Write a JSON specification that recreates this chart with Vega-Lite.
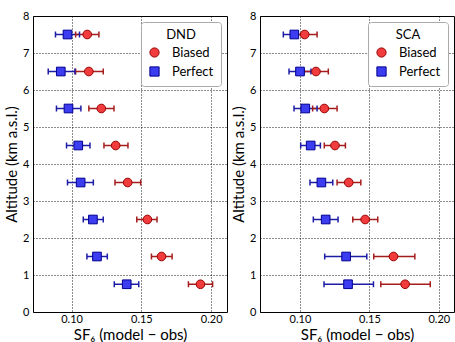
{
  "$schema": "https://vega.github.io/schema/vega-lite/v6.json",
  "padding": {"left": 4, "top": 9, "right": 0, "bottom": 0},
  "spacing": 3,
  "config": {
    "font": "Lato",
    "view": {"stroke": "black", "strokeWidth": 1},
    "axis": {"domain": false, "ticks": false, "grid": true, "gridColor": "black", "gridDash": [1, 2], "gridOpacity": 0.9, "gridWidth": 1, "labelColor": "black", "labelFontSize": 11, "titleFontSize": 15, "titleFontWeight": "normal", "titleColor": "black", "labelPadding": 4, "titlePadding": 3, "labelOverlap": false},
    "axisX": {"labelPadding": 1, "titlePadding": 3},
    "legend": {"orient": "top-right", "offset": 6, "strokeColor": "#aaaaaa", "fillColor": "white", "cornerRadius": 3, "padding": 7, "titleFontSize": 13, "titleFontWeight": "normal", "titleAnchor": "middle", "titleColor": "black", "labelFontSize": 13, "labelColor": "black", "symbolSize": 85, "symbolStrokeWidth": 1, "labelOffset": 11, "rowPadding": 4, "titlePadding": 4}
  },
  "datasets": {
    "dnd": [
      {"series": "Perfect", "alt": 7.5, "x": 0.0971, "lo": 0.0885, "hi": 0.1057},
      {"series": "Perfect", "alt": 6.5, "x": 0.0923, "lo": 0.0833, "hi": 0.1024},
      {"series": "Perfect", "alt": 5.5, "x": 0.0978, "lo": 0.0892, "hi": 0.1067},
      {"series": "Perfect", "alt": 4.5, "x": 0.1048, "lo": 0.0964, "hi": 0.1132},
      {"series": "Perfect", "alt": 3.5, "x": 0.1065, "lo": 0.0971, "hi": 0.1156},
      {"series": "Perfect", "alt": 2.5, "x": 0.1153, "lo": 0.1084, "hi": 0.1227},
      {"series": "Perfect", "alt": 1.5, "x": 0.1182, "lo": 0.1110, "hi": 0.1256},
      {"series": "Perfect", "alt": 0.75, "x": 0.1395, "lo": 0.1306, "hi": 0.1481},
      {"series": "Biased", "alt": 7.5, "x": 0.1112, "lo": 0.1029, "hi": 0.1196},
      {"series": "Biased", "alt": 6.5, "x": 0.1124, "lo": 0.1029, "hi": 0.1227},
      {"series": "Biased", "alt": 5.5, "x": 0.1213, "lo": 0.1124, "hi": 0.1304},
      {"series": "Biased", "alt": 4.5, "x": 0.1316, "lo": 0.1232, "hi": 0.1404},
      {"series": "Biased", "alt": 3.5, "x": 0.1402, "lo": 0.1311, "hi": 0.1495},
      {"series": "Biased", "alt": 2.5, "x": 0.1543, "lo": 0.1467, "hi": 0.1612},
      {"series": "Biased", "alt": 1.5, "x": 0.1644, "lo": 0.1572, "hi": 0.1720},
      {"series": "Biased", "alt": 0.75, "x": 0.1923, "lo": 0.1837, "hi": 0.2010}
    ],
    "sca": [
      {"series": "Perfect", "alt": 7.5, "x": 0.0959, "lo": 0.0880, "hi": 0.1046},
      {"series": "Perfect", "alt": 6.5, "x": 0.1000, "lo": 0.0921, "hi": 0.1079},
      {"series": "Perfect", "alt": 5.5, "x": 0.1038, "lo": 0.0957, "hi": 0.1123},
      {"series": "Perfect", "alt": 4.5, "x": 0.1077, "lo": 0.1005, "hi": 0.1147},
      {"series": "Perfect", "alt": 3.5, "x": 0.1154, "lo": 0.1072, "hi": 0.1236},
      {"series": "Perfect", "alt": 2.5, "x": 0.1185, "lo": 0.1096, "hi": 0.1274},
      {"series": "Perfect", "alt": 1.5, "x": 0.1332, "lo": 0.1178, "hi": 0.1481},
      {"series": "Perfect", "alt": 0.75, "x": 0.1346, "lo": 0.1173, "hi": 0.1529},
      {"series": "Biased", "alt": 7.5, "x": 0.1034, "lo": 0.0947, "hi": 0.1123},
      {"series": "Biased", "alt": 6.5, "x": 0.1115, "lo": 0.1031, "hi": 0.1204},
      {"series": "Biased", "alt": 5.5, "x": 0.1175, "lo": 0.1091, "hi": 0.1267},
      {"series": "Biased", "alt": 4.5, "x": 0.1252, "lo": 0.1175, "hi": 0.1327},
      {"series": "Biased", "alt": 3.5, "x": 0.1351, "lo": 0.1267, "hi": 0.1438},
      {"series": "Biased", "alt": 2.5, "x": 0.1469, "lo": 0.1380, "hi": 0.1560},
      {"series": "Biased", "alt": 1.5, "x": 0.1673, "lo": 0.1531, "hi": 0.1827},
      {"series": "Biased", "alt": 0.75, "x": 0.1757, "lo": 0.1582, "hi": 0.1938}
    ]
  },
  "hconcat": [
    {
      "width": 194, "height": 296,
      "data": {"name": "dnd"},
      "encoding": {
        "y": {"field": "alt", "type": "quantitative", "scale": {"domain": [0, 8], "nice": false}, "axis": {"values": [0,1,2,3,4,5,6,7,8], "title": "Altitude (km a.s.l.)"}}
      },
      "layer": [
        {"mark": {"type": "rule", "strokeWidth": 1.5},
         "encoding": {
           "x": {"field": "lo", "type": "quantitative", "scale": {"domain": [0.0724, 0.2113], "nice": false, "zero": false}, "axis": {"values": [0.10, 0.15, 0.20], "format": ".2f", "title": "SF₆ (model − obs)"}},
           "x2": {"field": "hi"},
           "color": {"field": "series", "type": "nominal", "scale": {"range": ["#a51c1c", "#1c1ca6"]}, "legend": null}}},
        {"mark": {"type": "tick", "orient": "vertical", "size": 6, "thickness": 1.5, "opacity": 1},
         "encoding": {"x": {"field": "lo", "type": "quantitative"}, "color": {"field": "series", "type": "nominal", "legend": null}}},
        {"mark": {"type": "tick", "orient": "vertical", "size": 6, "thickness": 1.5, "opacity": 1},
         "encoding": {"x": {"field": "hi", "type": "quantitative"}, "color": {"field": "series", "type": "nominal", "legend": null}}},
        {"mark": {"type": "point", "filled": true, "opacity": 1, "size": 75, "strokeWidth": 1},
         "encoding": {
           "x": {"field": "x", "type": "quantitative"},
           "fill": {"field": "series", "type": "nominal", "scale": {"domain": ["Biased", "Perfect"], "range": ["#f03c3c", "#3c3cf0"]}, "legend": {"title": "DND"}},
           "shape": {"field": "series", "type": "nominal", "scale": {"domain": ["Biased", "Perfect"], "range": ["circle", "square"]}, "legend": {"title": "DND"}},
           "stroke": {"field": "series", "type": "nominal", "scale": {"domain": ["Biased", "Perfect"], "range": ["#990000", "#00008f"]}, "legend": {"title": "DND"}}}}
      ]
    },
    {
      "width": 194, "height": 296,
      "data": {"name": "sca"},
      "encoding": {
        "y": {"field": "alt", "type": "quantitative", "scale": {"domain": [0, 8], "nice": false}, "axis": {"values": [0,1,2,3,4,5,6,7,8], "title": "Altitude (km a.s.l.)"}}
      },
      "layer": [
        {"mark": {"type": "rule", "strokeWidth": 1.5},
         "encoding": {
           "x": {"field": "lo", "type": "quantitative", "scale": {"domain": [0.0712, 0.2109], "nice": false, "zero": false}, "axis": {"values": [0.10, 0.15, 0.20], "format": ".2f", "title": "SF₆ (model − obs)"}},
           "x2": {"field": "hi"},
           "color": {"field": "series", "type": "nominal", "scale": {"range": ["#a51c1c", "#1c1ca6"]}, "legend": null}}},
        {"mark": {"type": "tick", "orient": "vertical", "size": 6, "thickness": 1.5, "opacity": 1},
         "encoding": {"x": {"field": "lo", "type": "quantitative"}, "color": {"field": "series", "type": "nominal", "legend": null}}},
        {"mark": {"type": "tick", "orient": "vertical", "size": 6, "thickness": 1.5, "opacity": 1},
         "encoding": {"x": {"field": "hi", "type": "quantitative"}, "color": {"field": "series", "type": "nominal", "legend": null}}},
        {"mark": {"type": "point", "filled": true, "opacity": 1, "size": 75, "strokeWidth": 1},
         "encoding": {
           "x": {"field": "x", "type": "quantitative"},
           "fill": {"field": "series", "type": "nominal", "scale": {"domain": ["Biased", "Perfect"], "range": ["#f03c3c", "#3c3cf0"]}, "legend": {"title": "SCA"}},
           "shape": {"field": "series", "type": "nominal", "scale": {"domain": ["Biased", "Perfect"], "range": ["circle", "square"]}, "legend": {"title": "SCA"}},
           "stroke": {"field": "series", "type": "nominal", "scale": {"domain": ["Biased", "Perfect"], "range": ["#990000", "#00008f"]}, "legend": {"title": "SCA"}}}}
      ]
    }
  ],
  "resolve": {"scale": {"x": "independent", "y": "independent", "fill": "independent", "shape": "independent", "stroke": "independent", "color": "independent"}}
}
